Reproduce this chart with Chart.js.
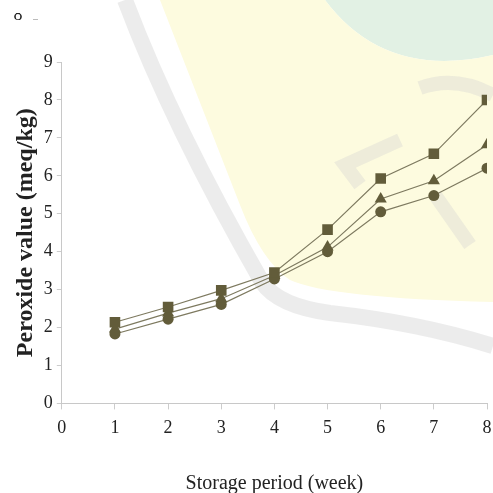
<!DOCTYPE html>
<html><head><meta charset="utf-8">
<script src="https://cdn.jsdelivr.net/npm/chart.js@4/dist/chart.umd.min.js"></script>
<style>html,body{margin:0;padding:0;background:#fff;}#wrap{width:493px;height:493px;}</style>
</head><body><div id="wrap"><canvas id="c" width="493" height="493"></canvas></div>
<script>
const weeks = [1, 2, 3, 4, 5, 6, 7, 8];
const seriesSquare = [2.14, 2.54, 2.98, 3.45, 4.58, 5.93, 6.58, 8.0];
const seriesTriangle = [1.96, 2.38, 2.76, 3.37, 4.12, 5.39, 5.87, 6.82];
const seriesCircle = [1.83, 2.22, 2.61, 3.28, 4.0, 5.05, 5.48, 6.2];
const xTicks = [0, 1, 2, 3, 4, 5, 6, 7, 8];
const yTicks = [0, 1, 2, 3, 4, 5, 6, 7, 8, 9];

const toPts = vals => weeks.map((w, i) => ({x: w, y: vals[i]}));
const lineCol = '#7e7a60';
const markCol = '#625c3a';

const watermark = {
  id: 'watermark',
  beforeDraw(chart) {
    const ctx = chart.ctx;
    ctx.save();
    // pale green top right
    ctx.fillStyle = '#e2f1e4';
    ctx.beginPath();
    ctx.moveTo(325, 0); ctx.quadraticCurveTo(385, 80, 493, 55); ctx.lineTo(493, 0); ctx.closePath();
    ctx.fill();
    // pale yellow body
    ctx.fillStyle = '#fdfbdf';
    ctx.beginPath();
    ctx.moveTo(160, 0); ctx.lineTo(325, 0); ctx.quadraticCurveTo(385, 80, 493, 55);
    ctx.lineTo(493, 302); ctx.quadraticCurveTo(330, 298, 290, 280);
    ctx.quadraticCurveTo(262, 262, 240, 205); ctx.closePath();
    ctx.fill();
    // gray band
    ctx.strokeStyle = 'rgba(210,210,210,0.42)';
    ctx.lineWidth = 16;
    ctx.beginPath();
    ctx.moveTo(125, 0); ctx.quadraticCurveTo(172, 125, 262, 282);
    ctx.quadraticCurveTo(278, 306, 330, 313);
    ctx.quadraticCurveTo(420, 323, 493, 346);
    ctx.stroke();
    ctx.strokeStyle = 'rgba(210,210,210,0.35)';
    ctx.lineWidth = 14;
    ctx.beginPath();
    ctx.moveTo(420, 88); ctx.quadraticCurveTo(455, 75, 493, 95);
    ctx.stroke();
    ctx.beginPath();
    ctx.moveTo(400, 140); ctx.lineTo(345, 165); ctx.lineTo(360, 185);
    ctx.moveTo(435, 195); ctx.lineTo(470, 245);
    ctx.stroke();
    // partial label from the chart above (cropped)
    ctx.beginPath(); ctx.rect(0, 13, 60, 20); ctx.clip();
    ctx.fillStyle = '#222';
    ctx.font = '18px "Liberation Serif"';
    ctx.textAlign = 'center';
    ctx.textBaseline = 'alphabetic';
    ctx.fillText('8', 18, 20);
    ctx.fillStyle = '#bbb';
    ctx.fillRect(33, 19, 5, 1);
    ctx.restore();
  }
};

new Chart(document.getElementById('c'), {
  type: 'line',
  data: {
    datasets: [
      {label: 'A', data: toPts(seriesSquare), borderColor: lineCol, borderWidth: 1.2, pointStyle: 'rect', pointRadius: 7.5, pointBackgroundColor: markCol, pointBorderColor: markCol, pointBorderWidth: 0, tension: 0},
      {label: 'B', data: toPts(seriesTriangle), borderColor: lineCol, borderWidth: 1.2, pointStyle: 'triangle', pointRadius: 7, pointBackgroundColor: markCol, pointBorderColor: markCol, pointBorderWidth: 0, tension: 0},
      {label: 'C', data: toPts(seriesCircle), borderColor: lineCol, borderWidth: 1.2, pointStyle: 'circle', pointRadius: 5.5, pointBackgroundColor: markCol, pointBorderColor: markCol, pointBorderWidth: 0, tension: 0}
    ]
  },
  options: {
    responsive: false,
    animation: false,
    clip: {left: 8, top: 8, right: 0, bottom: 8},
    layout: {autoPadding: false, padding: {top: 62, right: 6, left: 11, bottom: 0}},
    plugins: {legend: {display: false}, tooltip: {enabled: false}},
    scales: {
      x: {
        type: 'linear', min: 0, max: 8,
        afterBuildTicks: s => { s.ticks = xTicks.map(v => ({value: v})); },
        afterFit: s => { s.paddingRight = 0; },
        grid: {drawOnChartArea: false, drawTicks: true, tickLength: 6, color: '#cccccc'},
        border: {color: '#c8c8c8', width: 1},
        ticks: {font: {family: '"Liberation Serif"', size: 18}, color: '#222', padding: 8, maxRotation: 0},
        title: {display: true, text: 'Storage period (week)', font: {family: '"Liberation Serif"', size: 20}, color: '#222', padding: {top: 25, bottom: -3}}
      },
      y: {
        min: 0, max: 9,
        afterBuildTicks: s => { s.ticks = yTicks.map(v => ({value: v})); },
        grid: {drawOnChartArea: false, drawTicks: true, tickLength: 5, color: '#cccccc'},
        border: {color: '#c8c8c8', width: 1},
        ticks: {font: {family: '"Liberation Serif"', size: 18}, color: '#222', padding: 4},
        title: {display: true, text: 'Peroxide value (meq/kg)', font: {family: '"Liberation Serif"', size: 24, weight: 'bold'}, color: '#222', padding: {top: 0, bottom: 0}}
      }
    }
  },
  plugins: [watermark]
});
</script></body></html>
